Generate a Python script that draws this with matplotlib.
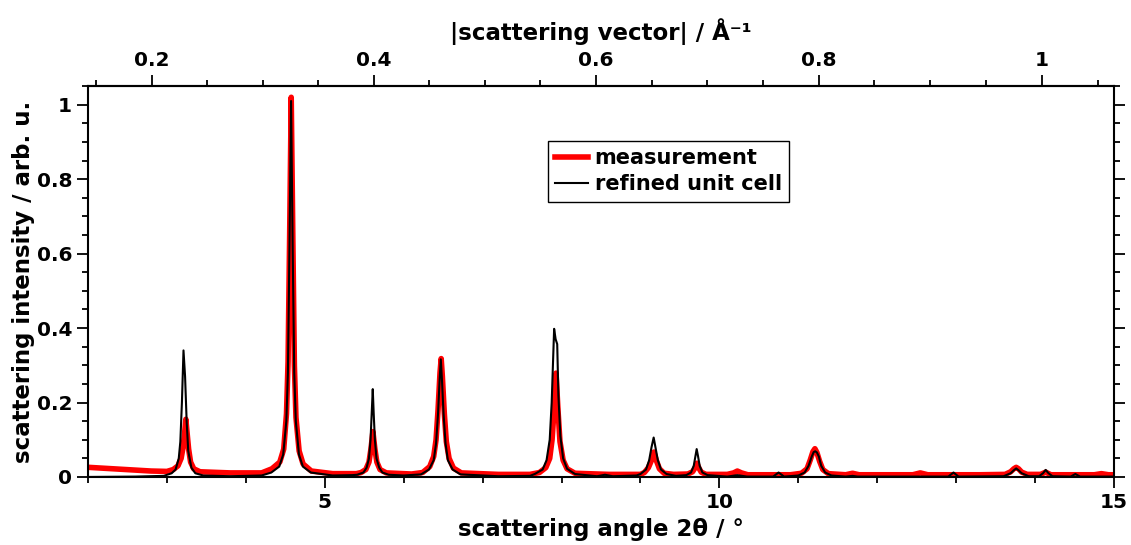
import numpy as np
import matplotlib
matplotlib.use('Agg')
import matplotlib.pyplot as plt
from matplotlib.ticker import MultipleLocator, FixedLocator, FuncFormatter

WAVELENGTH = 1.5406     # Cu K-alpha, Angstrom

# measured pattern (2theta in degrees, normalised intensity)
meas_2theta = [2.0, 2.4, 2.8, 3.0,
               3.08, 3.14, 3.18, 3.205, 3.225, 3.24, 3.255, 3.275, 3.30, 3.34, 3.42,
               3.8, 4.2,
               4.33, 4.43, 4.48, 4.515, 4.535, 4.555, 4.575, 4.595, 4.615, 4.635, 4.675, 4.725, 4.83,
               5.1, 5.4,
               5.46, 5.52, 5.56, 5.585, 5.61, 5.635, 5.66, 5.70, 5.78,
               6.1,
               6.24, 6.33, 6.38, 6.41, 6.435, 6.46, 6.475, 6.49, 6.515, 6.54, 6.575, 6.63, 6.73,
               7.2, 7.6,
               7.72, 7.80, 7.85, 7.88, 7.905, 7.93, 7.955, 7.98, 8.02, 8.07, 8.17,
               8.6, 9.0,
               9.05, 9.10, 9.14, 9.17, 9.20, 9.24, 9.30, 9.42,
               9.60, 9.66, 9.69, 9.715, 9.74, 9.77, 9.83,
               10.1, 10.18, 10.227, 10.28, 10.36, 10.9,
               11.04, 11.11, 11.15, 11.185, 11.21, 11.235, 11.27, 11.31, 11.38,
               11.6, 11.687, 11.77, 12.45, 12.545, 12.64, 13.3,
               13.62, 13.69, 13.73, 13.76, 13.79, 13.83, 13.9,
               14.07, 14.134, 14.2, 14.75, 14.84, 14.93, 15.0]
meas_int = [0.026, 0.021, 0.016, 0.015,
            0.020, 0.030, 0.050, 0.080, 0.120, 0.155, 0.120, 0.075, 0.040, 0.022, 0.014,
            0.011, 0.011,
            0.022, 0.040, 0.075, 0.170, 0.310, 0.650, 1.020, 0.650, 0.300, 0.160, 0.070, 0.035, 0.016,
            0.009, 0.009,
            0.012, 0.020, 0.040, 0.075, 0.122, 0.075, 0.040, 0.020, 0.011,
            0.008,
            0.012, 0.028, 0.055, 0.100, 0.180, 0.280, 0.318, 0.270, 0.170, 0.095, 0.050, 0.024, 0.011,
            0.007, 0.007,
            0.012, 0.025, 0.050, 0.100, 0.180, 0.279, 0.180, 0.095, 0.045, 0.022, 0.010,
            0.007, 0.007,
            0.012, 0.025, 0.045, 0.067, 0.045, 0.022, 0.010, 0.007,
            0.008, 0.014, 0.024, 0.037, 0.024, 0.013, 0.007,
            0.007, 0.011, 0.016, 0.011, 0.006, 0.006,
            0.010, 0.022, 0.045, 0.068, 0.076, 0.066, 0.042, 0.020, 0.009,
            0.006, 0.010, 0.006, 0.006, 0.011, 0.006, 0.006,
            0.007, 0.014, 0.022, 0.026, 0.022, 0.013, 0.007,
            0.007, 0.013, 0.006, 0.006, 0.009, 0.006, 0.006]

# pattern calculated from the refined unit cell
calc_2theta = [2.0, 2.6, 2.96,
               3.06, 3.11, 3.15, 3.17, 3.19, 3.21, 3.23, 3.25, 3.27, 3.31, 3.36, 3.46,
               3.8, 4.2,
               4.323, 4.423, 4.473, 4.513, 4.533, 4.553, 4.573, 4.593, 4.613, 4.633, 4.673, 4.723, 4.823,
               5.1, 5.35,
               5.41, 5.49, 5.53, 5.56, 5.58, 5.595, 5.608, 5.62, 5.635, 5.655, 5.69, 5.73, 5.81,
               6.0,
               6.22, 6.32, 6.38, 6.41, 6.435, 6.455, 6.47, 6.485, 6.505, 6.53, 6.56, 6.62, 6.72,
               7.2, 7.6,
               7.66, 7.76, 7.81, 7.85, 7.875, 7.89, 7.906, 7.925, 7.945, 7.96, 7.985, 8.02, 8.07, 8.17,
               8.45, 8.55, 8.65, 8.95,
               9.0, 9.07, 9.11, 9.14, 9.167, 9.19, 9.22, 9.26, 9.33, 9.45,
               9.58, 9.64, 9.675, 9.695, 9.712, 9.73, 9.75, 9.785, 9.85,
               10.1, 10.227, 10.35, 10.68, 10.75, 10.82,
               11.0, 11.08, 11.13, 11.17, 11.195, 11.214, 11.235, 11.26, 11.29, 11.34, 11.42,
               11.6, 11.687, 11.75, 12.9, 12.966, 13.03,
               13.6, 13.69, 13.73, 13.76, 13.79, 13.83, 13.92,
               14.05, 14.10, 14.134, 14.17, 14.22,
               14.45, 14.51, 14.57, 15.0]
calc_int = [0.000, 0.001, 0.003,
            0.010, 0.020, 0.050, 0.095, 0.200, 0.340, 0.270, 0.150, 0.070, 0.025, 0.010, 0.004,
            0.002, 0.004,
            0.012, 0.028, 0.060, 0.150, 0.280, 0.620, 1.010, 0.620, 0.280, 0.150, 0.060, 0.028, 0.012,
            0.004, 0.005,
            0.006, 0.012, 0.025, 0.050, 0.100, 0.170, 0.236, 0.170, 0.100, 0.050, 0.025, 0.012, 0.006,
            0.004,
            0.007, 0.020, 0.045, 0.090, 0.170, 0.260, 0.316, 0.260, 0.170, 0.090, 0.045, 0.020, 0.007,
            0.002, 0.003,
            0.008, 0.020, 0.045, 0.100, 0.200, 0.300, 0.398, 0.370, 0.357, 0.220, 0.110, 0.050, 0.022, 0.008,
            0.002, 0.006, 0.002, 0.004,
            0.008, 0.020, 0.045, 0.080, 0.106, 0.080, 0.045, 0.020, 0.008, 0.003,
            0.005, 0.012, 0.030, 0.055, 0.075, 0.055, 0.030, 0.012, 0.005,
            0.001, 0.005, 0.001, 0.001, 0.012, 0.001,
            0.004, 0.012, 0.030, 0.055, 0.067, 0.069, 0.066, 0.055, 0.030, 0.012, 0.004,
            0.001, 0.003, 0.001, 0.001, 0.012, 0.001,
            0.002, 0.010, 0.018, 0.023, 0.018, 0.010, 0.002,
            0.002, 0.010, 0.019, 0.010, 0.002,
            0.001, 0.008, 0.001, 0.001]

# top axis tick values, |q| in 1/Angstrom
q_ticks = [0.2, 0.4, 0.6, 0.8, 1.0]
q_minor = [0.15, 0.25, 0.3, 0.35, 0.45, 0.5, 0.55, 0.65, 0.7, 0.75,
           0.85, 0.9, 0.95, 1.05]

plt.rcParams['font.family'] = 'DejaVu Sans'
plt.rcParams['font.weight'] = 'bold'


def tth_to_q(tth):
    return 4 * np.pi / WAVELENGTH * np.sin(np.radians(np.asarray(tth)) / 2)


def q_to_tth(q):
    arg = np.clip(np.asarray(q) * WAVELENGTH / (4 * np.pi), -1, 1)
    return 2 * np.degrees(np.arcsin(arg))


fmt = FuncFormatter(lambda v, p: '%g' % round(v, 6))

fig = plt.figure(figsize=(11.31, 5.45), dpi=100)
ax = fig.add_axes([0.0778, 0.1248, 0.9072, 0.7172])

ax.plot(meas_2theta, meas_int, color='#ff0000', lw=4, label='measurement', zorder=2)
ax.plot(calc_2theta, calc_int, color='black', lw=1.5, label='refined unit cell', zorder=3)

ax.set_xlim(2, 15)
ax.set_ylim(0, 1.05)
ax.xaxis.set_major_locator(MultipleLocator(5))
ax.xaxis.set_minor_locator(MultipleLocator(1))
ax.yaxis.set_major_locator(MultipleLocator(0.2))
ax.yaxis.set_minor_locator(MultipleLocator(0.05))
ax.xaxis.set_major_formatter(fmt)
ax.yaxis.set_major_formatter(fmt)
ax.tick_params(which='both', direction='out', width=1.3, labelsize=14.5,
               top=False, right=True, labelright=False)
ax.tick_params(which='major', length=8)
ax.tick_params(which='minor', length=4)
for sp in ax.spines.values():
    sp.set_linewidth(1.5)

ax.set_xlabel('scattering angle 2θ / °', fontsize=16.5, fontweight='bold', labelpad=4)
ax.set_ylabel('scattering intensity / arb. u.', fontsize=16.5, fontweight='bold', labelpad=1)

sec = ax.secondary_xaxis('top', functions=(tth_to_q, q_to_tth))
sec.xaxis.set_major_locator(FixedLocator(q_ticks))
sec.xaxis.set_minor_locator(FixedLocator(q_minor))
sec.xaxis.set_major_formatter(fmt)
sec.tick_params(which='both', direction='out', width=1.3, labelsize=14.5)
sec.tick_params(which='major', length=8)
sec.tick_params(which='minor', length=4)
sec.spines['top'].set_linewidth(1.5)
sec.set_xlabel('|scattering vector| / Å⁻¹', fontsize=16.5, fontweight='bold', labelpad=8)

leg = ax.legend(loc='upper left', bbox_to_anchor=(0.448, 0.86), borderaxespad=0,
                fancybox=False, edgecolor='black', framealpha=1, fontsize=15,
                handlelength=1.6, handletextpad=0.3, borderpad=0.35, labelspacing=0.3)
leg.get_frame().set_linewidth(1.0)
for t in leg.get_texts():
    t.set_fontweight('bold')

plt.savefig('out.png', dpi=100)
